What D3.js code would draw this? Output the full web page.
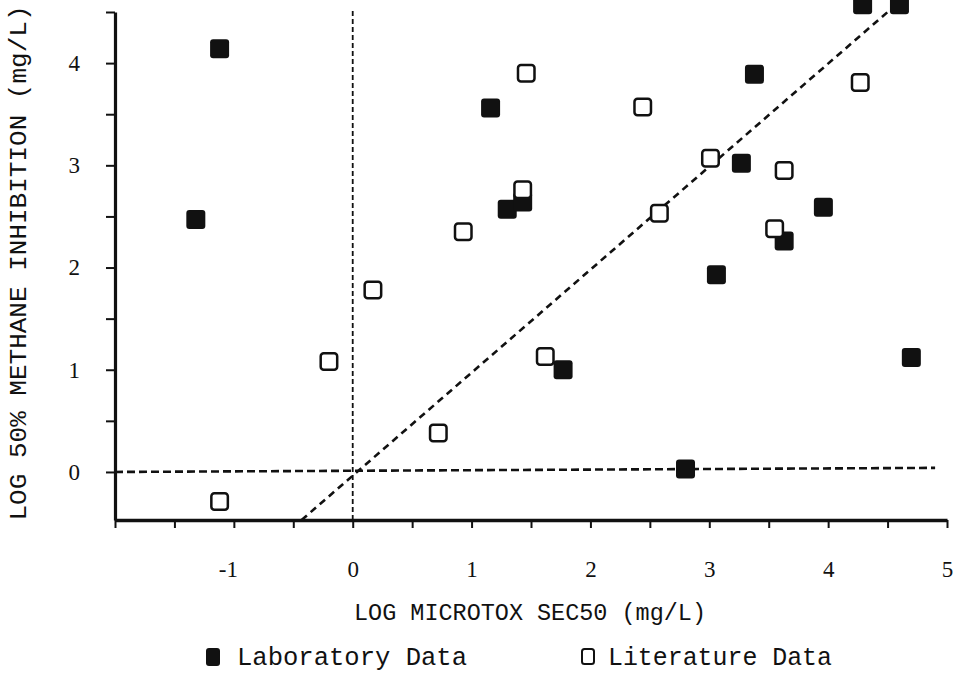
<!DOCTYPE html>
<html>
<head>
<meta charset="utf-8">
<script src="https://cdn.jsdelivr.net/npm/d3@7"></script>
<style>
  body { margin: 0; background: #fff; }
  svg { display: block; }
  text { font-family: "Liberation Mono", "DejaVu Sans Mono", monospace; fill: #111; }
</style>
</head>
<body>
<svg id="chart"></svg>
<script>
// lab data (filled squares): log Microtox EC50, log 50% methane inhibition
const labX = [-1.12, -1.32, 1.16, 1.30, 1.43, 1.77, 2.80, 3.06, 3.27, 3.38, 3.63, 3.96, 4.29, 4.60, 4.70];
const labY = [4.14, 2.47, 3.56, 2.57, 2.64, 1.00, 0.03, 1.93, 3.02, 3.89, 2.26, 2.59, 4.57, 4.57, 1.12];
// literature data (open squares)
const litX = [-1.12, -0.20, 0.17, 0.72, 0.93, 1.43, 1.46, 1.62, 2.44, 2.58, 3.01, 3.55, 3.63, 4.27];
const litY = [-0.29, 1.08, 1.78, 0.38, 2.35, 2.76, 3.90, 1.13, 3.57, 2.53, 3.07, 2.38, 2.95, 3.81];
// reference lines (data units)
const oneToOne = [[-0.43, -0.47], [4.6, 4.6]];
const zeroLine = [[-2, 0], [4.9, 0.04]];
const vertLine = [[0, -0.47], [0, 4.52]];
const xTickLabels = ['-1', '0', '1', '2', '3', '4', '5'];
const yTickLabels = ['0', '1', '2', '3', '4'];
const legendLabels = ['Laboratory Data', 'Literature Data'];

const W = 958, H = 676;
const svg = d3.select('#chart').attr('width', W).attr('height', H);

const x = d3.scaleLinear().domain([-2, 5]).range([115, 947]);
const y = d3.scaleLinear().domain([-0.47, 4.5]).range([520, 12]);

const lab = labX.map((v, i) => [v, labY[i]]);
const lit = litX.map((v, i) => [v, litY[i]]);

const line = d3.line().x(d => x(d[0])).y(d => y(d[1]));

// dashed reference lines
svg.append('path').attr('d', line(vertLine))
  .attr('stroke', '#111').attr('stroke-width', 1.8).attr('stroke-dasharray', '5,3').attr('fill', 'none');
svg.append('path').attr('d', line(zeroLine))
  .attr('stroke', '#111').attr('stroke-width', 2.6).attr('stroke-dasharray', '8,4').attr('fill', 'none');
svg.append('path').attr('d', line(oneToOne))
  .attr('stroke', '#111').attr('stroke-width', 2.6).attr('stroke-dasharray', '7,5').attr('fill', 'none');

// axes
const xAxis = d3.axisBottom(x)
  .tickValues(d3.range(-2, 5.01, 0.5))
  .tickSize(8).tickSizeOuter(0).tickPadding(33)
  .tickFormat(d => (Number.isInteger(d) && xTickLabels.includes(String(d))) ? String(d) : '');
const gx = svg.append('g').attr('transform', `translate(0,${y(-0.47)})`).call(xAxis);
gx.select('.domain').attr('stroke-width', 3.5).attr('stroke', '#111');
gx.selectAll('.tick line').attr('stroke-width', 2).attr('stroke', '#111');
gx.selectAll('.tick text').attr('font-size', 23).style('font-family', '"Liberation Serif", serif')
  .attr('dx', d => d < 0 ? -6 : 0);

const yAxis = d3.axisLeft(y)
  .tickValues(d3.range(0, 4.51, 0.5))
  .tickSize(9).tickSizeOuter(0).tickPadding(26)
  .tickFormat(d => (Number.isInteger(d) && yTickLabels.includes(String(d))) ? String(d) : '');
const gy = svg.append('g').attr('transform', `translate(${x(-2)},0)`).call(yAxis);
gy.select('.domain').attr('stroke-width', 3.2).attr('stroke', '#111');
gy.selectAll('.tick line').attr('stroke-width', 2).attr('stroke', '#111');
gy.selectAll('.tick text').attr('font-size', 23).style('font-family', '"Liberation Serif", serif');

// markers
const s = 19;
svg.append('g').selectAll('rect').data(lab).join('rect')
  .attr('x', d => x(d[0]) - s / 2).attr('y', d => y(d[1]) - s / 2)
  .attr('width', s).attr('height', s).attr('rx', 3)
  .attr('fill', '#111');
svg.append('g').selectAll('rect').data(lit).join('rect')
  .attr('x', d => x(d[0]) - (s - 2.5) / 2).attr('y', d => y(d[1]) - (s - 2.5) / 2)
  .attr('width', s - 2.5).attr('height', s - 2.5).attr('rx', 3)
  .attr('fill', '#fff').attr('stroke', '#111').attr('stroke-width', 2.5);

// axis titles
svg.append('text').attr('x', 530).attr('y', 620).attr('text-anchor', 'middle')
  .attr('font-size', 23).attr('textLength', 352).attr('lengthAdjust', 'spacingAndGlyphs')
  .text('LOG MICROTOX SEC50 (mg/L)');
svg.append('text').attr('transform', 'translate(26,263) rotate(-90)').attr('text-anchor', 'middle')
  .attr('font-size', 23).attr('textLength', 515).attr('lengthAdjust', 'spacingAndGlyphs')
  .text('LOG 50% METHANE INHIBITION (mg/L)');

// legend
const leg = svg.append('g');
leg.append('rect').attr('x', 206).attr('y', 648).attr('width', 14).attr('height', 18).attr('rx', 3).attr('fill', '#111');
leg.append('text').attr('x', 237).attr('y', 665).attr('font-size', 25)
  .attr('textLength', 230).attr('lengthAdjust', 'spacingAndGlyphs').text(legendLabels[0]);
leg.append('rect').attr('x', 582).attr('y', 649).attr('width', 12).attr('height', 15).attr('rx', 2.5)
  .attr('fill', '#fff').attr('stroke', '#111').attr('stroke-width', 2);
leg.append('text').attr('x', 608).attr('y', 665).attr('font-size', 25)
  .attr('textLength', 224).attr('lengthAdjust', 'spacingAndGlyphs').text(legendLabels[1]);
</script>
</body>
</html>
